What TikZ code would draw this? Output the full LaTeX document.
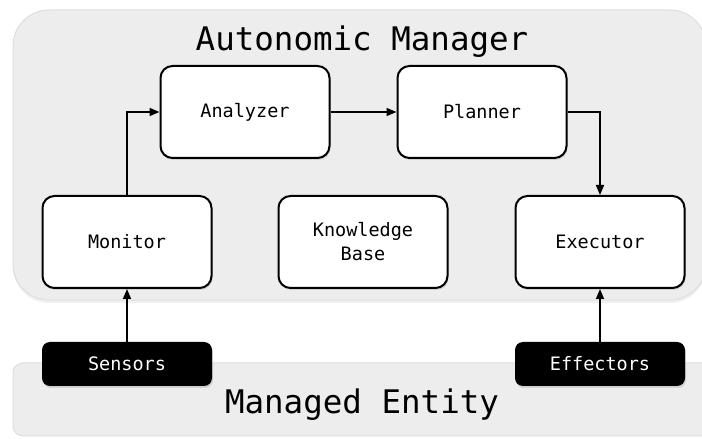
\documentclass[tikz,border=0pt]{standalone}
\usepackage{fontspec}
\setmonofont{DejaVu Sans Mono}
\usetikzlibrary{arrows.meta,shadows}

\begin{document}
\begin{tikzpicture}[x=1pt,y=1pt,
    panel/.style={draw=black!13, fill=black!7, line width=1pt},
    block/.style={draw, line width=2pt, fill=white, rounded corners=12pt,
        minimum width=169pt, minimum height=92pt, align=center,
        font=\ttfamily\fontsize{18.5}{24}\selectfont,
        drop shadow={shadow xshift=1pt, shadow yshift=-2pt, opacity=0.25}},
    port/.style={fill=black, text=white, rounded corners=8pt,
        minimum width=170pt, minimum height=44pt,
        font=\ttfamily\fontsize{18.5}{24}\selectfont,
        drop shadow={shadow xshift=1pt, shadow yshift=-2pt, opacity=0.25}},
    heading/.style={font=\ttfamily\fontsize{32.5}{36}\selectfont},
    flow/.style={line width=1.6pt, -{Triangle[length=10pt,width=8pt]}}]
    \useasboundingbox (0,0) rectangle (702,439);
    \clip (0,0) rectangle (702,439);

    % background panels
    \draw[panel, rounded corners=36pt,
        drop shadow={shadow xshift=0pt, shadow yshift=-3pt, opacity=0.12}]
        (13,139) rectangle (706,429);
    \draw[panel, rounded corners=10pt] (13,3) rectangle (730,76);
    \node[heading] (amtitle) at (362,397) {Autonomic Manager};
    \node[heading] (metitle) at (362,34) {Managed Entity};

    % loop
    \node[block] (analyzer) at (245,327) {Analyzer};
    \node[block] (planner) at (482,327) {Planner};
    \node[block] (monitor) at (127,197) {Monitor};
    \node[block] (knowledge) at (363,197) {Knowledge\\Base};
    \node[block] (executor) at (600,197) {Executor};

    % touchpoints
    \node[port] (sensors) at (127,75) {Sensors};
    \node[port] (effectors) at (600,75) {Effectors};

    \draw[flow] (monitor.north) |- (analyzer.west);
    \draw[flow] (analyzer.east) -- (planner.west);
    \draw[flow] (planner.east) -| (executor.north);
    \draw[flow] (sensors.north) -- (monitor.south);
    \draw[flow] (effectors.north) -- (executor.south);
\end{tikzpicture}
\end{document}
